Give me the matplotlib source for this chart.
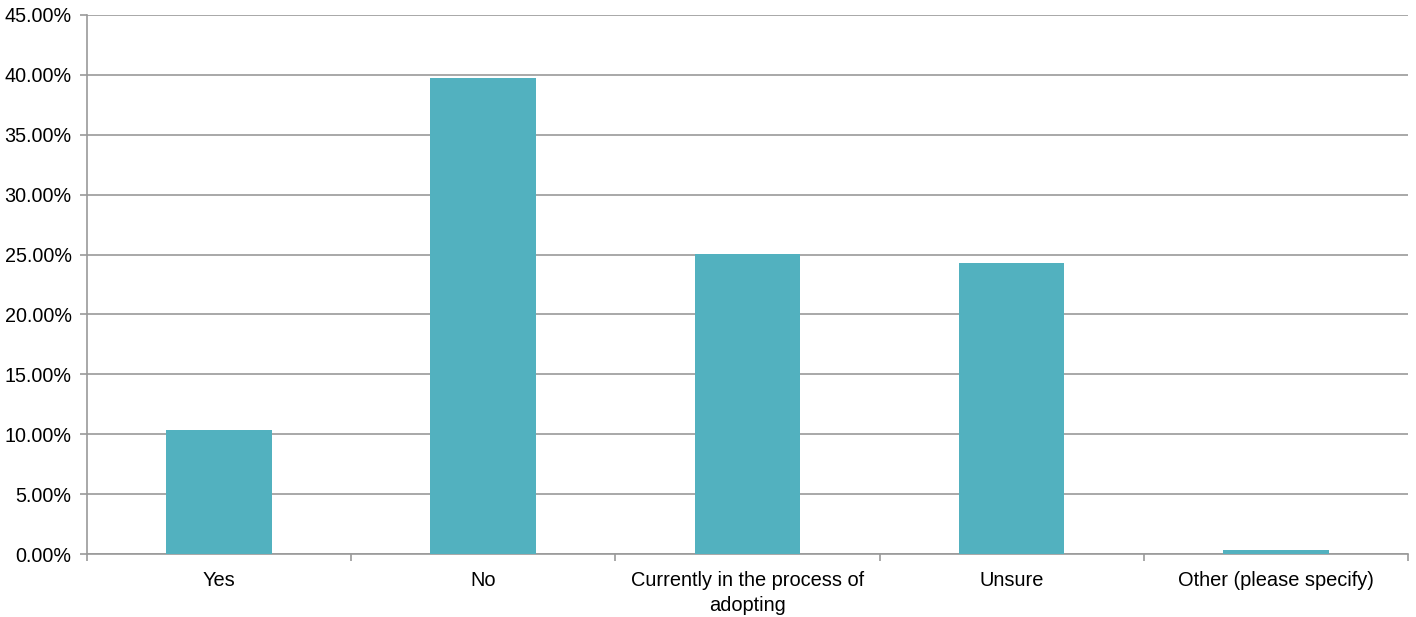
import matplotlib.pyplot as plt
import numpy as np
from matplotlib.ticker import FuncFormatter

categories = ["Yes", "No", "Currently in the process of\nadopting", "Unsure", "Other (please specify)"]
values = [10.35, 39.74, 25.07, 24.30, 0.33]

bar_color = "#52b1bf"
grid_color = "#9a9a9a"

plt.rcParams['font.family'] = ['Liberation Sans', 'DejaVu Sans']

fig = plt.figure(figsize=(14.16, 6.17), dpi=100)
ax = fig.add_axes([0.0614, 0.1021, 0.9329, 0.8736])

x = np.arange(len(categories))
ax.bar(x, values, width=0.4, color=bar_color, zorder=3)

ax.set_xlim(-0.5, len(categories) - 0.5)
ax.set_ylim(0, 45)
ax.set_yticks(np.arange(0, 46, 5))
ax.yaxis.set_major_formatter(FuncFormatter(lambda v, p: f"{v:.2f}%"))
ax.grid(axis='y', color=grid_color, linewidth=1.2, zorder=0)

# category labels centred, tick marks on the boundaries
ax.set_xticks(x)
ax.set_xticklabels(categories, linespacing=1.45)
ax.set_xticks(np.arange(-0.5, len(categories), 1), minor=True)
ax.tick_params(axis='x', which='major', length=0, pad=12, labelsize=14.4)
ax.tick_params(axis='x', which='minor', length=5, color=grid_color, width=1.2)
ax.tick_params(axis='y', length=5, color=grid_color, width=1.2, pad=6, labelsize=14.2)

for side in ['top', 'right']:
    ax.spines[side].set_visible(False)
for side in ['left', 'bottom']:
    ax.spines[side].set_color(grid_color)
    ax.spines[side].set_linewidth(1.2)

fig.savefig("out.png", dpi=100)
